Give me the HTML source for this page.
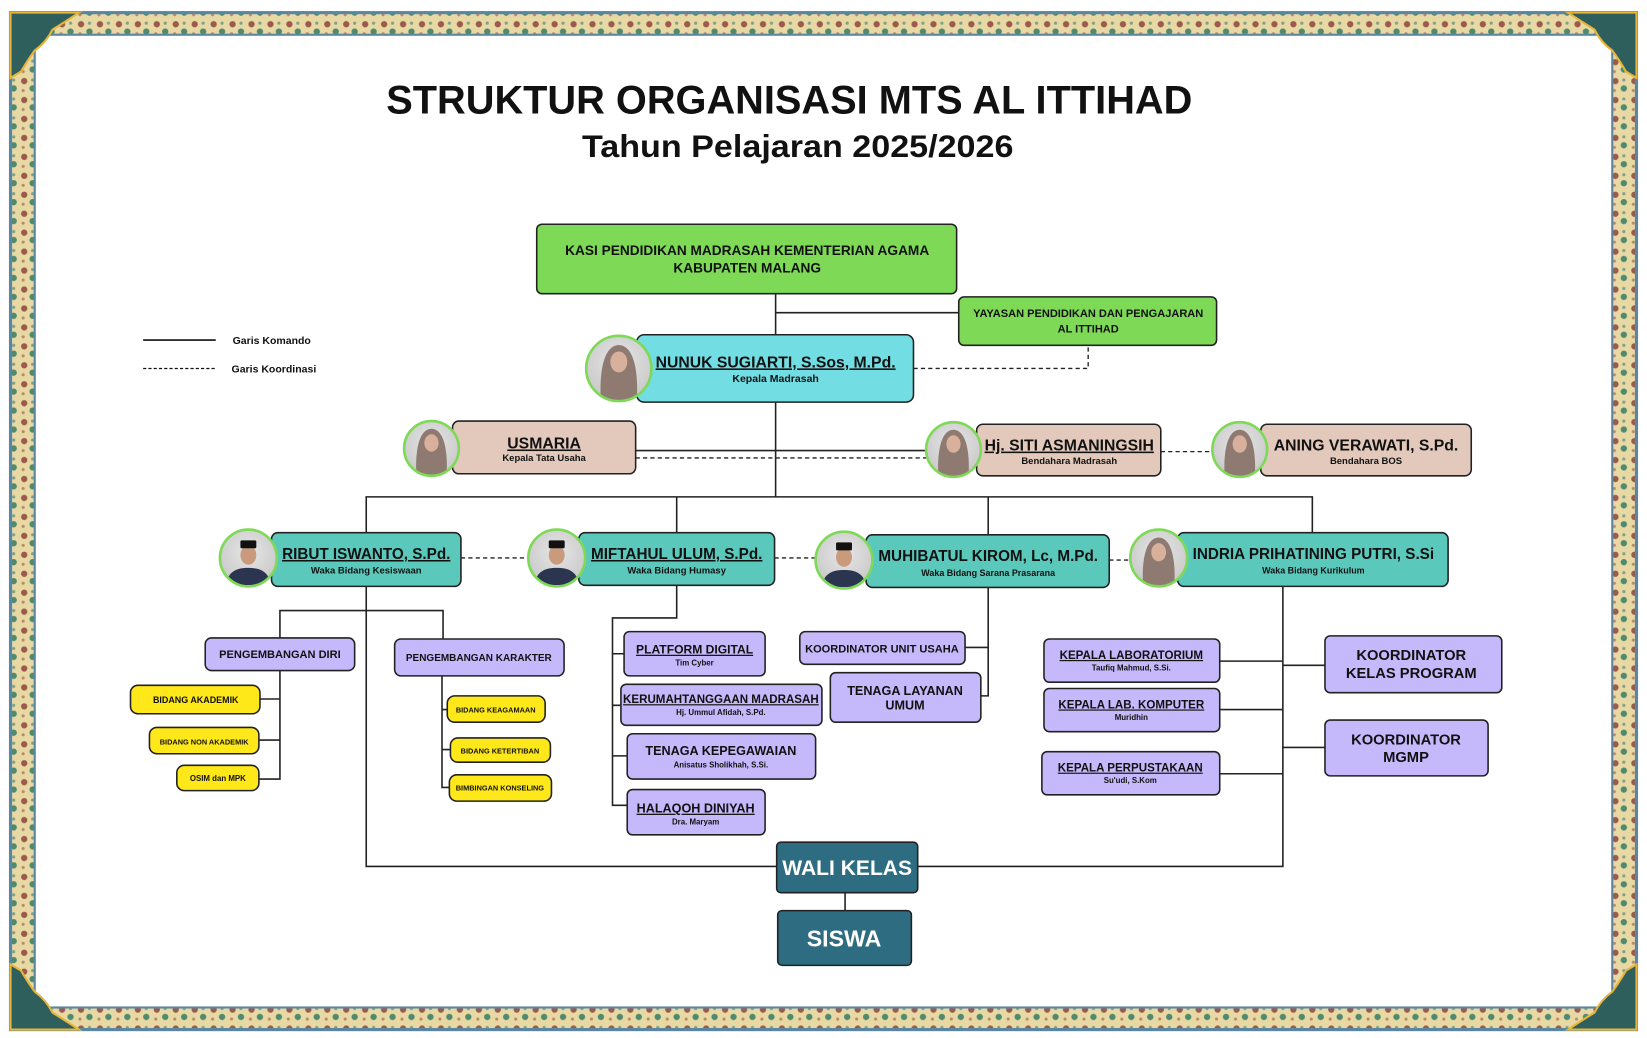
<!DOCTYPE html>
<html><head><meta charset="utf-8"><style>
html,body{margin:0;padding:0;background:#fff;width:1647px;height:1038px;overflow:hidden}
svg{display:block}
text{font-family:"Liberation Sans",sans-serif;font-weight:bold;fill:#111}
</style></head><body>
<svg width="1647" height="1038" viewBox="0 0 1565 986" preserveAspectRatio="none" xmlns="http://www.w3.org/2000/svg">
<defs>
<pattern id="orn" width="18" height="18" patternUnits="userSpaceOnUse">
<rect width="18" height="18" fill="#e8d9a4"/>
<circle cx="5" cy="5" r="3" fill="#9b5a4c"/>
<circle cx="13" cy="12" r="3" fill="#4f8a6e"/>
<circle cx="13" cy="4" r="1.5" fill="#7fa08a"/>
<circle cx="4" cy="14" r="1.5" fill="#b98a6a"/>
</pattern>
<clipPath id="cc" clipPathUnits="userSpaceOnUse"><circle r="1"/></clipPath>
<radialGradient id="ph" cx="50%" cy="40%" r="60%"><stop offset="0" stop-color="#e6e6e6"/><stop offset="1" stop-color="#c9c9c9"/></radialGradient>
<g id="photoF"><g clip-path="url(#cc)"><circle r="1" fill="url(#ph)"/><path d="M-0.55,1 C-0.6,0.2 -0.5,-0.7 0,-0.72 C0.5,-0.7 0.6,0.2 0.55,1 Z" fill="#8e7a70"/><ellipse cx="0" cy="-0.2" rx="0.26" ry="0.32" fill="#d9b09b"/></g></g>
<g id="photoM"><g clip-path="url(#cc)"><circle r="1" fill="url(#ph)"/><path d="M-0.8,0.95 C-0.7,0.45 -0.4,0.35 0,0.35 C0.4,0.35 0.7,0.45 0.8,0.95 Z" fill="#2c3550"/><ellipse cx="0" cy="-0.1" rx="0.28" ry="0.34" fill="#c99a7c"/><rect x="-0.28" y="-0.62" width="0.56" height="0.28" rx="0.05" fill="#111"/></g></g>
</defs>
<rect x="10" y="12" width="1545" height="966" fill="url(#orn)"/>
<rect x="10" y="12" width="1545" height="966" fill="none" stroke="#5a86a3" stroke-width="3"/>
<rect x="33" y="33" width="1499" height="924" fill="#fff" stroke="#5a86a3" stroke-width="2"/>
<path d="M10,12 H75 Q60,22 50,28 Q44,40 33,48 Q27,56 20,68 L10,74 Z" fill="#2f5f5c" stroke="#e6b53a" stroke-width="2"/>
<path d="M1555,12 H1490 Q1505,22 1515,28 Q1521,40 1532,48 Q1538,56 1545,68 L1555,74 Z" fill="#2f5f5c" stroke="#e6b53a" stroke-width="2"/>
<path d="M10,978 H75 Q60,968 50,962 Q44,950 33,942 Q27,934 20,922 L10,916 Z" fill="#2f5f5c" stroke="#e6b53a" stroke-width="2"/>
<path d="M1555,978 H1490 Q1505,968 1515,962 Q1521,950 1532,942 Q1538,934 1545,922 L1555,916 Z" fill="#2f5f5c" stroke="#e6b53a" stroke-width="2"/>

<text x="750" y="108" text-anchor="middle" font-size="38" textLength="766" lengthAdjust="spacingAndGlyphs">STRUKTUR ORGANISASI MTS AL ITTIHAD</text>
<text x="758" y="149" text-anchor="middle" font-size="30" textLength="410" lengthAdjust="spacingAndGlyphs">Tahun Pelajaran 2025/2026</text>

<line x1="136" y1="323" x2="205" y2="323" stroke="#111" stroke-width="1.5"/>
<text x="221" y="327" font-size="10">Garis Komando</text>
<line x1="136" y1="350" x2="205" y2="350" stroke="#111" stroke-width="1.2" stroke-dasharray="3,2"/>
<text x="220" y="354" font-size="10">Garis Koordinasi</text>

<g fill="none" stroke="#222" stroke-width="1.5">
<path d="M737,279 V472"/>
<path d="M737,297 H911"/>
<path d="M604,428 H880"/>
<path d="M348,506 V472 H1247 V506 M643,472 V506 M939,472 V508"/>
<path d="M348,557 V823 H738"/>
<path d="M266,606 V580 H421 V607"/>
<path d="M266,637 V740 H246 M266,664 H247 M266,703 H246"/>
<path d="M420,642 V748 H427 M420,674 H425 M420,712 H428"/>
<path d="M643,556 V587 H582 V765 H596 M582,621 H593 M582,670 H590 M582,718 H596"/>
<path d="M939,558 V661 H932 M939,615 H917"/>
<path d="M1219,557 V823 H872 M1219,628 H1159 M1219,674 H1159 M1219,735 H1159 M1219,632 H1259 M1219,710 H1259"/>
<path d="M803,848 V865"/>
</g>
<g fill="none" stroke="#222" stroke-width="1.3" stroke-dasharray="4,3">
<path d="M868,350 H1034 V328"/>
<path d="M604,435 H880"/>
<path d="M1103,429 H1153"/>
<path d="M438,530 H503"/>
<path d="M736,530 H776"/>
<path d="M1054,532 H1076"/>
</g>

<g stroke="#222" stroke-width="1.5">
<rect x="510" y="213" width="399" height="66" rx="5" fill="#7ed957"/>
<rect x="911" y="282" width="245" height="46" rx="5" fill="#7ed957"/>
<rect x="605" y="318" width="263" height="64" rx="7" fill="#72dde3"/>
<rect x="430" y="400" width="174" height="50" rx="6" fill="#e2c9bb"/>
<rect x="928" y="403" width="175" height="49" rx="6" fill="#e2c9bb"/>
<rect x="1198" y="403" width="200" height="49" rx="6" fill="#e2c9bb"/>
<rect x="258" y="506" width="180" height="51" rx="6" fill="#5bc8bc"/>
<rect x="550" y="506" width="186" height="50" rx="6" fill="#5bc8bc"/>
<rect x="823" y="508" width="231" height="50" rx="6" fill="#5bc8bc"/>
<rect x="1119" y="506" width="257" height="51" rx="6" fill="#5bc8bc"/>
<g fill="#c6b9fb">
<rect x="195" y="606" width="142" height="31" rx="6"/>
<rect x="375" y="607" width="161" height="35" rx="6"/>
<rect x="593" y="600" width="134" height="42" rx="5"/>
<rect x="590" y="650" width="191" height="39" rx="5"/>
<rect x="596" y="697" width="179" height="43" rx="5"/>
<rect x="596" y="750" width="131" height="43" rx="5"/>
<rect x="760" y="600" width="157" height="31" rx="5"/>
<rect x="789" y="639" width="143" height="47" rx="5"/>
<rect x="992" y="607" width="167" height="41" rx="5"/>
<rect x="992" y="654" width="167" height="41" rx="5"/>
<rect x="990" y="714" width="169" height="41" rx="5"/>
<rect x="1259" y="604" width="168" height="54" rx="5"/>
<rect x="1259" y="684" width="155" height="53" rx="5"/>
</g>
<g fill="#ffe81a">
<rect x="124" y="651" width="123" height="27" rx="7"/>
<rect x="142" y="691" width="104" height="25" rx="7"/>
<rect x="168" y="727" width="78" height="24" rx="7"/>
<rect x="425" y="661" width="93" height="25" rx="7"/>
<rect x="428" y="701" width="95" height="23" rx="7"/>
<rect x="427" y="736" width="97" height="25" rx="7"/>
</g>
<rect x="738" y="800" width="134" height="48" rx="4" fill="#2e6c82"/>
<rect x="739" y="865" width="127" height="52" rx="4" fill="#2e6c82"/>
</g>

<g stroke="none">
<g transform="translate(588,350) scale(31)"><use href="#photoF"/></g>
<g transform="translate(410,426) scale(26)"><use href="#photoF"/></g>
<g transform="translate(906,427) scale(26)"><use href="#photoF"/></g>
<g transform="translate(1178,427) scale(26)"><use href="#photoF"/></g>
<g transform="translate(236,530) scale(27)"><use href="#photoM"/></g>
<g transform="translate(529,530) scale(27)"><use href="#photoM"/></g>
<g transform="translate(802,532) scale(27)"><use href="#photoM"/></g>
<g transform="translate(1101,530) scale(27)"><use href="#photoF"/></g>
</g>
<g fill="none" stroke="#7ed957" stroke-width="2.5">
<circle cx="588" cy="350" r="31"/><circle cx="410" cy="426" r="26"/><circle cx="906" cy="427" r="26"/><circle cx="1178" cy="427" r="26"/>
<circle cx="236" cy="530" r="27"/><circle cx="529" cy="530" r="27"/><circle cx="802" cy="532" r="27"/><circle cx="1101" cy="530" r="27"/>
</g>

<g text-anchor="middle">
<text x="710" y="242" font-size="13">KASI PENDIDIKAN MADRASAH KEMENTERIAN AGAMA</text>
<text x="710" y="259" font-size="13">KABUPATEN MALANG</text>
<text x="1034" y="301" font-size="10.5">YAYASAN PENDIDIKAN DAN PENGAJARAN</text>
<text x="1034" y="316" font-size="10.5">AL ITTIHAD</text>
<text x="737" y="349" font-size="15" text-decoration="underline">NUNUK SUGIARTI, S.Sos, M.Pd.</text>
<text x="737" y="363" font-size="10">Kepala Madrasah</text>
<text x="517" y="426" font-size="15" text-decoration="underline">USMARIA</text>
<text x="517" y="438" font-size="9">Kepala Tata Usaha</text>
<text x="1016" y="428" font-size="15" text-decoration="underline">Hj. SITI ASMANINGSIH</text>
<text x="1016" y="441" font-size="9">Bendahara Madrasah</text>
<text x="1298" y="428" font-size="15">ANING VERAWATI, S.Pd.</text>
<text x="1298" y="441" font-size="9">Bendahara BOS</text>
<text x="348" y="531" font-size="14.5" text-decoration="underline">RIBUT ISWANTO, S.Pd.</text>
<text x="348" y="545" font-size="9">Waka Bidang Kesiswaan</text>
<text x="643" y="531" font-size="14.5" text-decoration="underline">MIFTAHUL ULUM, S.Pd.</text>
<text x="643" y="545" font-size="9">Waka Bidang Humasy</text>
<text x="939" y="533" font-size="14.5">MUHIBATUL KIROM, Lc, M.Pd.</text>
<text x="939" y="547" font-size="8.5">Waka Bidang Sarana Prasarana</text>
<text x="1248" y="531" font-size="14.5">INDRIA PRIHATINING PUTRI, S.Si</text>
<text x="1248" y="545" font-size="8.5">Waka Bidang Kurikulum</text>

<text x="266" y="625" font-size="10.5">PENGEMBANGAN DIRI</text>
<text x="455" y="628" font-size="9.5">PENGEMBANGAN KARAKTER</text>
<text x="186" y="668" font-size="8.5">BIDANG AKADEMIK</text>
<text x="194" y="707" font-size="7">BIDANG NON AKADEMIK</text>
<text x="207" y="742" font-size="7.5">OSIM dan MPK</text>
<text x="471" y="677" font-size="7">BIDANG KEAGAMAAN</text>
<text x="475" y="716" font-size="7">BIDANG KETERTIBAN</text>
<text x="475" y="751" font-size="7">BIMBINGAN KONSELING</text>

<text x="660" y="621" font-size="11.5" text-decoration="underline">PLATFORM DIGITAL</text>
<text x="660" y="632" font-size="7.5">Tim Cyber</text>
<text x="685" y="668" font-size="11" text-decoration="underline">KERUMAHTANGGAAN MADRASAH</text>
<text x="685" y="679" font-size="7.5">Hj. Ummul Afidah, S.Pd.</text>
<text x="685" y="717" font-size="12">TENAGA KEPEGAWAIAN</text>
<text x="685" y="729" font-size="7.5">Anisatus Sholikhah, S.Si.</text>
<text x="661" y="772" font-size="12" text-decoration="underline">HALAQOH DINIYAH</text>
<text x="661" y="783" font-size="7.5">Dra. Maryam</text>
<text x="838" y="620" font-size="10.5">KOORDINATOR UNIT USAHA</text>
<text x="860" y="660" font-size="12">TENAGA LAYANAN</text>
<text x="860" y="674" font-size="12">UMUM</text>
<text x="1075" y="626" font-size="11" text-decoration="underline">KEPALA LABORATORIUM</text>
<text x="1075" y="637" font-size="7.5">Taufiq Mahmud, S.Si.</text>
<text x="1075" y="673" font-size="11" text-decoration="underline">KEPALA LAB. KOMPUTER</text>
<text x="1075" y="684" font-size="7.5">Muridhin</text>
<text x="1074" y="733" font-size="11" text-decoration="underline">KEPALA PERPUSTAKAAN</text>
<text x="1074" y="744" font-size="7.5">Su'udi, S.Kom</text>
<text x="1341" y="627" font-size="14">KOORDINATOR</text>
<text x="1341" y="644" font-size="14">KELAS PROGRAM</text>
<text x="1336" y="707" font-size="14">KOORDINATOR</text>
<text x="1336" y="724" font-size="14">MGMP</text>
<text x="805" y="831" font-size="20" style="fill:#fff">WALI KELAS</text>
<text x="802" y="899" font-size="22" style="fill:#fff">SISWA</text>
</g>
</svg>
</body></html>
